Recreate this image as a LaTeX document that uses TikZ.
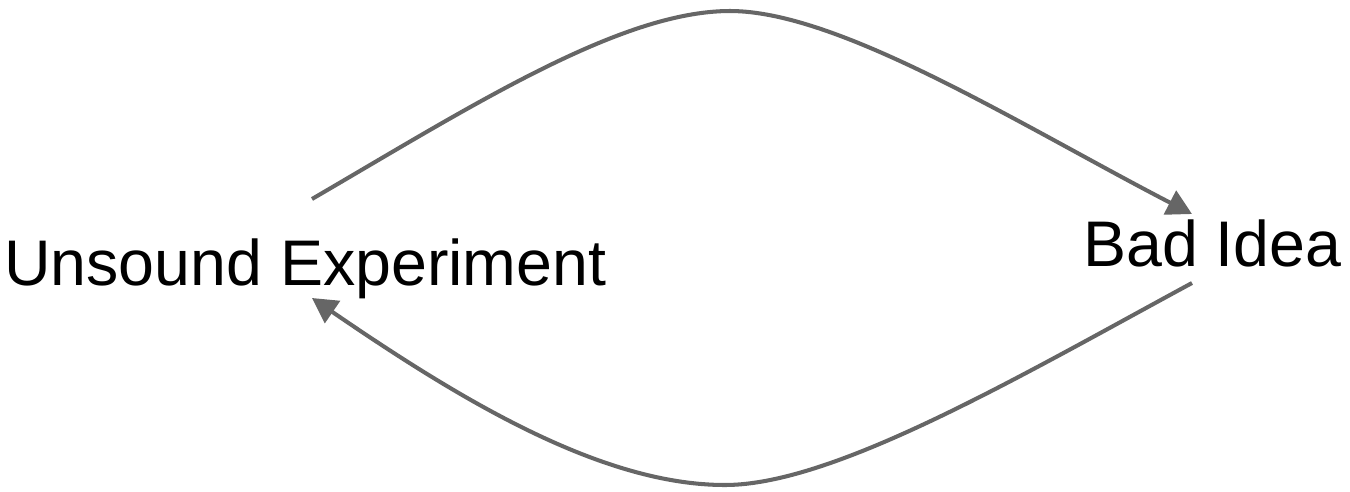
\documentclass[tikz,border=0pt]{standalone}
\usepackage{fontspec}
\setmainfont{Liberation Sans}
\usetikzlibrary{arrows.meta}
\definecolor{linegray}{HTML}{666666}
\begin{document}
\begin{tikzpicture}[x=0.02cm,y=-0.02cm,
  label/.style={inner sep=0pt,anchor=base west,font=\fontsize{36.7pt}{44pt}\selectfont},
  link/.style={draw=linegray,line width=2.3pt,-{Triangle[length=14.2pt,width=15pt]},fill=none}]
\useasboundingbox (0,0) rectangle (1350,491);
\node[label] (ue) at (4,285) {Unsound Experiment};
\node[label] (bi) at (1083,266) {Bad Idea};
\coordinate (ueout) at (312,199);
\coordinate (top) at (730,11);
\coordinate (biin) at (1192,214);
\coordinate (biout) at (1192,283);
\coordinate (bot) at (725,485);
\coordinate (uein) at (312,298);
\draw[link] (ueout) .. controls (470,107) and (620,11) .. (top)
  .. controls (840,11) and (1022,126) .. (biin);
\draw[link] (biout) .. controls (1022,375) and (835,485) .. (bot)
  .. controls (600,485) and (458,398) .. (uein);
\end{tikzpicture}
\end{document}
